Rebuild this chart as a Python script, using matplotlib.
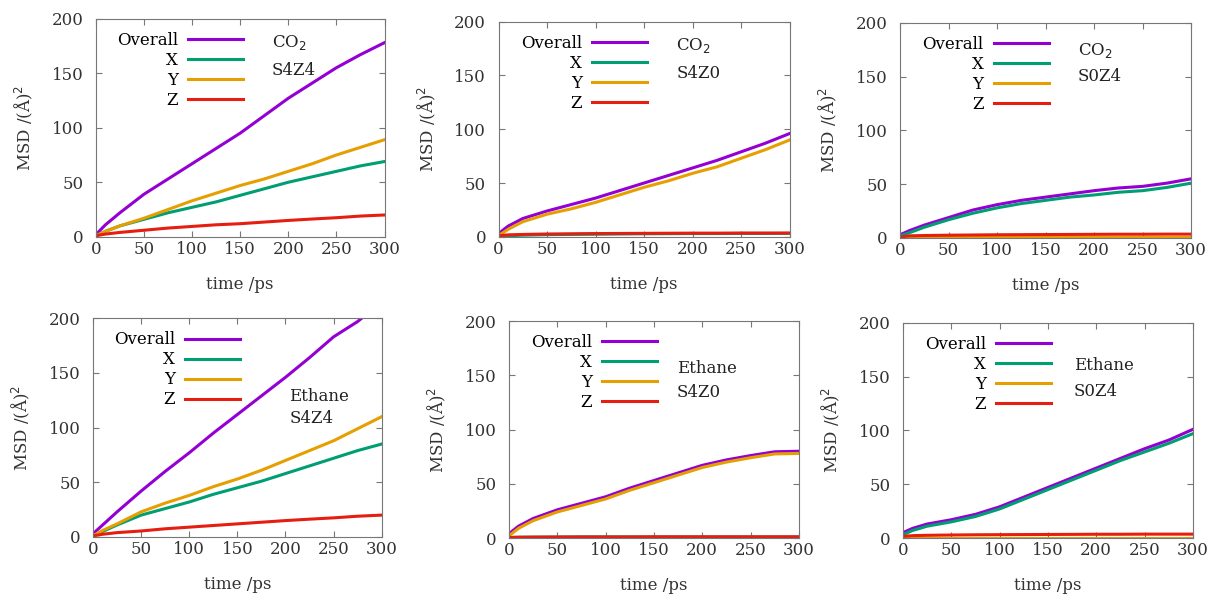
import numpy as np
import matplotlib.pyplot as plt

plt.rcParams['font.family'] = 'DejaVu Serif'

# time points (ps)
t = [0, 10, 25, 50, 75, 100, 125, 150, 175, 200, 225, 250, 275, 300]

# CO2 S4Z4
co2_s4z4_all = [2, 11, 22, 39, 53, 67, 81, 95, 111, 127, 141, 155, 167, 178]
co2_s4z4_x = [1, 5, 10, 16, 22, 27, 32, 38, 44, 50, 55, 60, 65, 69]
co2_s4z4_y = [1, 5, 10, 17, 25, 33, 40, 47, 53, 60, 67, 75, 82, 89]
co2_s4z4_z = [1, 2.5, 4, 6, 8, 9.5, 11, 12, 13.5, 15, 16.3, 17.5, 19, 20]

# CO2 S4Z0
co2_s4z0_all = [3, 10, 17, 24, 30, 36, 43, 50, 57, 64, 71, 79, 87, 96]
co2_s4z0_x = [0.5, 1, 1.5, 2, 2.2, 2.4, 2.6, 2.8, 2.9, 3, 3, 3.1, 3.1, 3.2]
co2_s4z0_y = [1, 7, 14, 21, 26, 32, 39, 46, 52, 59, 65, 73, 81, 90]
co2_s4z0_z = [1, 1.8, 2.2, 2.6, 2.8, 3, 3.1, 3.2, 3.3, 3.4, 3.4, 3.5, 3.5, 3.5]

# CO2 S0Z4
co2_s0z4_all = [3, 7, 12, 19, 26, 31, 35, 38, 41, 44, 46.5, 48, 51, 55]
co2_s0z4_x = [2, 5, 10, 17, 23, 28, 32, 35, 38, 40, 42.5, 44, 47, 51]
co2_s0z4_y = [0.3, 0.4, 0.5, 0.5, 0.5, 0.5, 0.5, 0.5, 0.5, 0.5, 0.5, 0.5, 0.5, 0.5]
co2_s0z4_z = [1, 2, 2.3, 2.6, 2.8, 3, 3.1, 3.2, 3.3, 3.4, 3.5, 3.5, 3.6, 3.6]

# Ethane S4Z4
eth_s4z4_all = [3, 11, 23, 42, 60, 77, 95, 112, 129, 146, 164, 183, 197, 215]
eth_s4z4_x = [1, 5, 11, 20, 26, 32, 39, 45, 51, 58, 65, 72, 79, 85]
eth_s4z4_y = [1, 6, 12, 23, 31, 38, 46, 53, 61, 70, 79, 88, 99, 110]
eth_s4z4_z = [1, 2.5, 4, 5.5, 7.5, 9, 10.5, 12, 13.5, 15, 16.3, 17.5, 19, 20]

# Ethane S4Z0
eth_s4z0_all = [4, 11, 18, 26, 32, 38, 46, 53, 60, 67, 72, 76, 79.5, 80]
eth_s4z0_x = [0.5, 0.7, 0.8, 0.9, 1, 1, 1, 1, 1, 1, 1, 1, 1, 1]
eth_s4z0_y = [2, 9, 16, 24, 30, 36, 44, 51, 58, 65, 70, 74, 77.5, 78]
eth_s4z0_z = [0.5, 0.7, 0.8, 0.9, 1, 1, 1, 1.1, 1.1, 1.1, 1.1, 1.1, 1.1, 1.1]

# Ethane S0Z4
eth_s0z4_all = [5, 9, 13, 17, 22, 29, 38, 47, 56, 65, 74, 83, 91, 101]
eth_s0z4_x = [3, 7, 11, 15, 20, 27, 36, 45, 54, 63, 72, 80, 88, 97]
eth_s0z4_y = [0.3, 0.3, 0.3, 0.3, 0.3, 0.3, 0.3, 0.3, 0.3, 0.3, 0.3, 0.3, 0.3, 0.3]
eth_s0z4_z = [1.5, 2.2, 2.5, 2.8, 3, 3.1, 3.2, 3.3, 3.4, 3.5, 3.5, 3.6, 3.6, 3.6]

labels = ['Overall', 'X', 'Y', 'Z']
colors = ['#9400d3', '#009e73', '#e69f00', '#e51e10']

panels = [
    ([co2_s4z4_all, co2_s4z4_x, co2_s4z4_y, co2_s4z4_z], 'CO$_2$', 'S4Z4',
     [0.079, 0.606, 0.238, 0.363], (0.61, 0.89), (0.61, 0.76)),
    ([co2_s4z0_all, co2_s4z0_x, co2_s4z0_y, co2_s4z0_z], 'CO$_2$', 'S4Z0',
     [0.411, 0.606, 0.240, 0.358], (0.61, 0.89), (0.61, 0.76)),
    ([co2_s0z4_all, co2_s0z4_x, co2_s0z4_y, co2_s0z4_z], 'CO$_2$', 'S0Z4',
     [0.742, 0.604, 0.240, 0.358], (0.61, 0.87), (0.61, 0.75)),
    ([eth_s4z4_all, eth_s4z4_x, eth_s4z4_y, eth_s4z4_z], 'Ethane', 'S4Z4',
     [0.0767, 0.1065, 0.238, 0.364], (0.68, 0.64), (0.68, 0.54)),
    ([eth_s4z0_all, eth_s4z0_x, eth_s4z0_y, eth_s4z0_z], 'Ethane', 'S4Z0',
     [0.4196, 0.1048, 0.239, 0.361], (0.58, 0.78), (0.58, 0.67)),
    ([eth_s0z4_all, eth_s0z4_x, eth_s0z4_y, eth_s0z4_z], 'Ethane', 'S0Z4',
     [0.7444, 0.1048, 0.239, 0.358], (0.59, 0.80), (0.59, 0.68)),
]

fs = 12

fig = plt.figure(figsize=(12.13, 6.01), dpi=100)

for series, gas, cfg, pos, p1, p2 in panels:
    ax = fig.add_axes(pos)
    for s, lab, c in zip(series, labels, colors):
        ax.plot(t, s, color=c, lw=2.2, label=lab)
    ax.set_xlim(0, 300)
    ax.set_ylim(0, 200)
    ax.set_xticks(np.arange(0, 301, 50))
    ax.set_yticks(np.arange(0, 201, 50))
    ax.tick_params(direction='in', top=True, right=True, length=4,
                   labelsize=fs, colors='#777777', labelcolor='#333333')
    ax.tick_params(axis='x', pad=3)
    ax.tick_params(axis='y', pad=9)
    for sp in ax.spines.values():
        sp.set_color('#777777')
    ax.set_xlabel('time /ps', fontsize=fs, color='#333333', labelpad=13)
    ax.set_ylabel('MSD /(Å)$^2$', fontsize=fs, color='#333333', labelpad=12)
    ax.legend(loc='upper right', bbox_to_anchor=(0.51, 0.94), markerfirst=False,
              frameon=False, fontsize=fs, handlelength=3.3, handletextpad=0.6,
              labelspacing=0.18, borderaxespad=0, borderpad=0)
    ax.text(p1[0], p1[1], gas, transform=ax.transAxes, fontsize=fs,
            color='#222222', va='center')
    ax.text(p2[0], p2[1], cfg, transform=ax.transAxes, fontsize=fs,
            color='#222222', va='center')

fig.savefig('out.png', dpi=100)
